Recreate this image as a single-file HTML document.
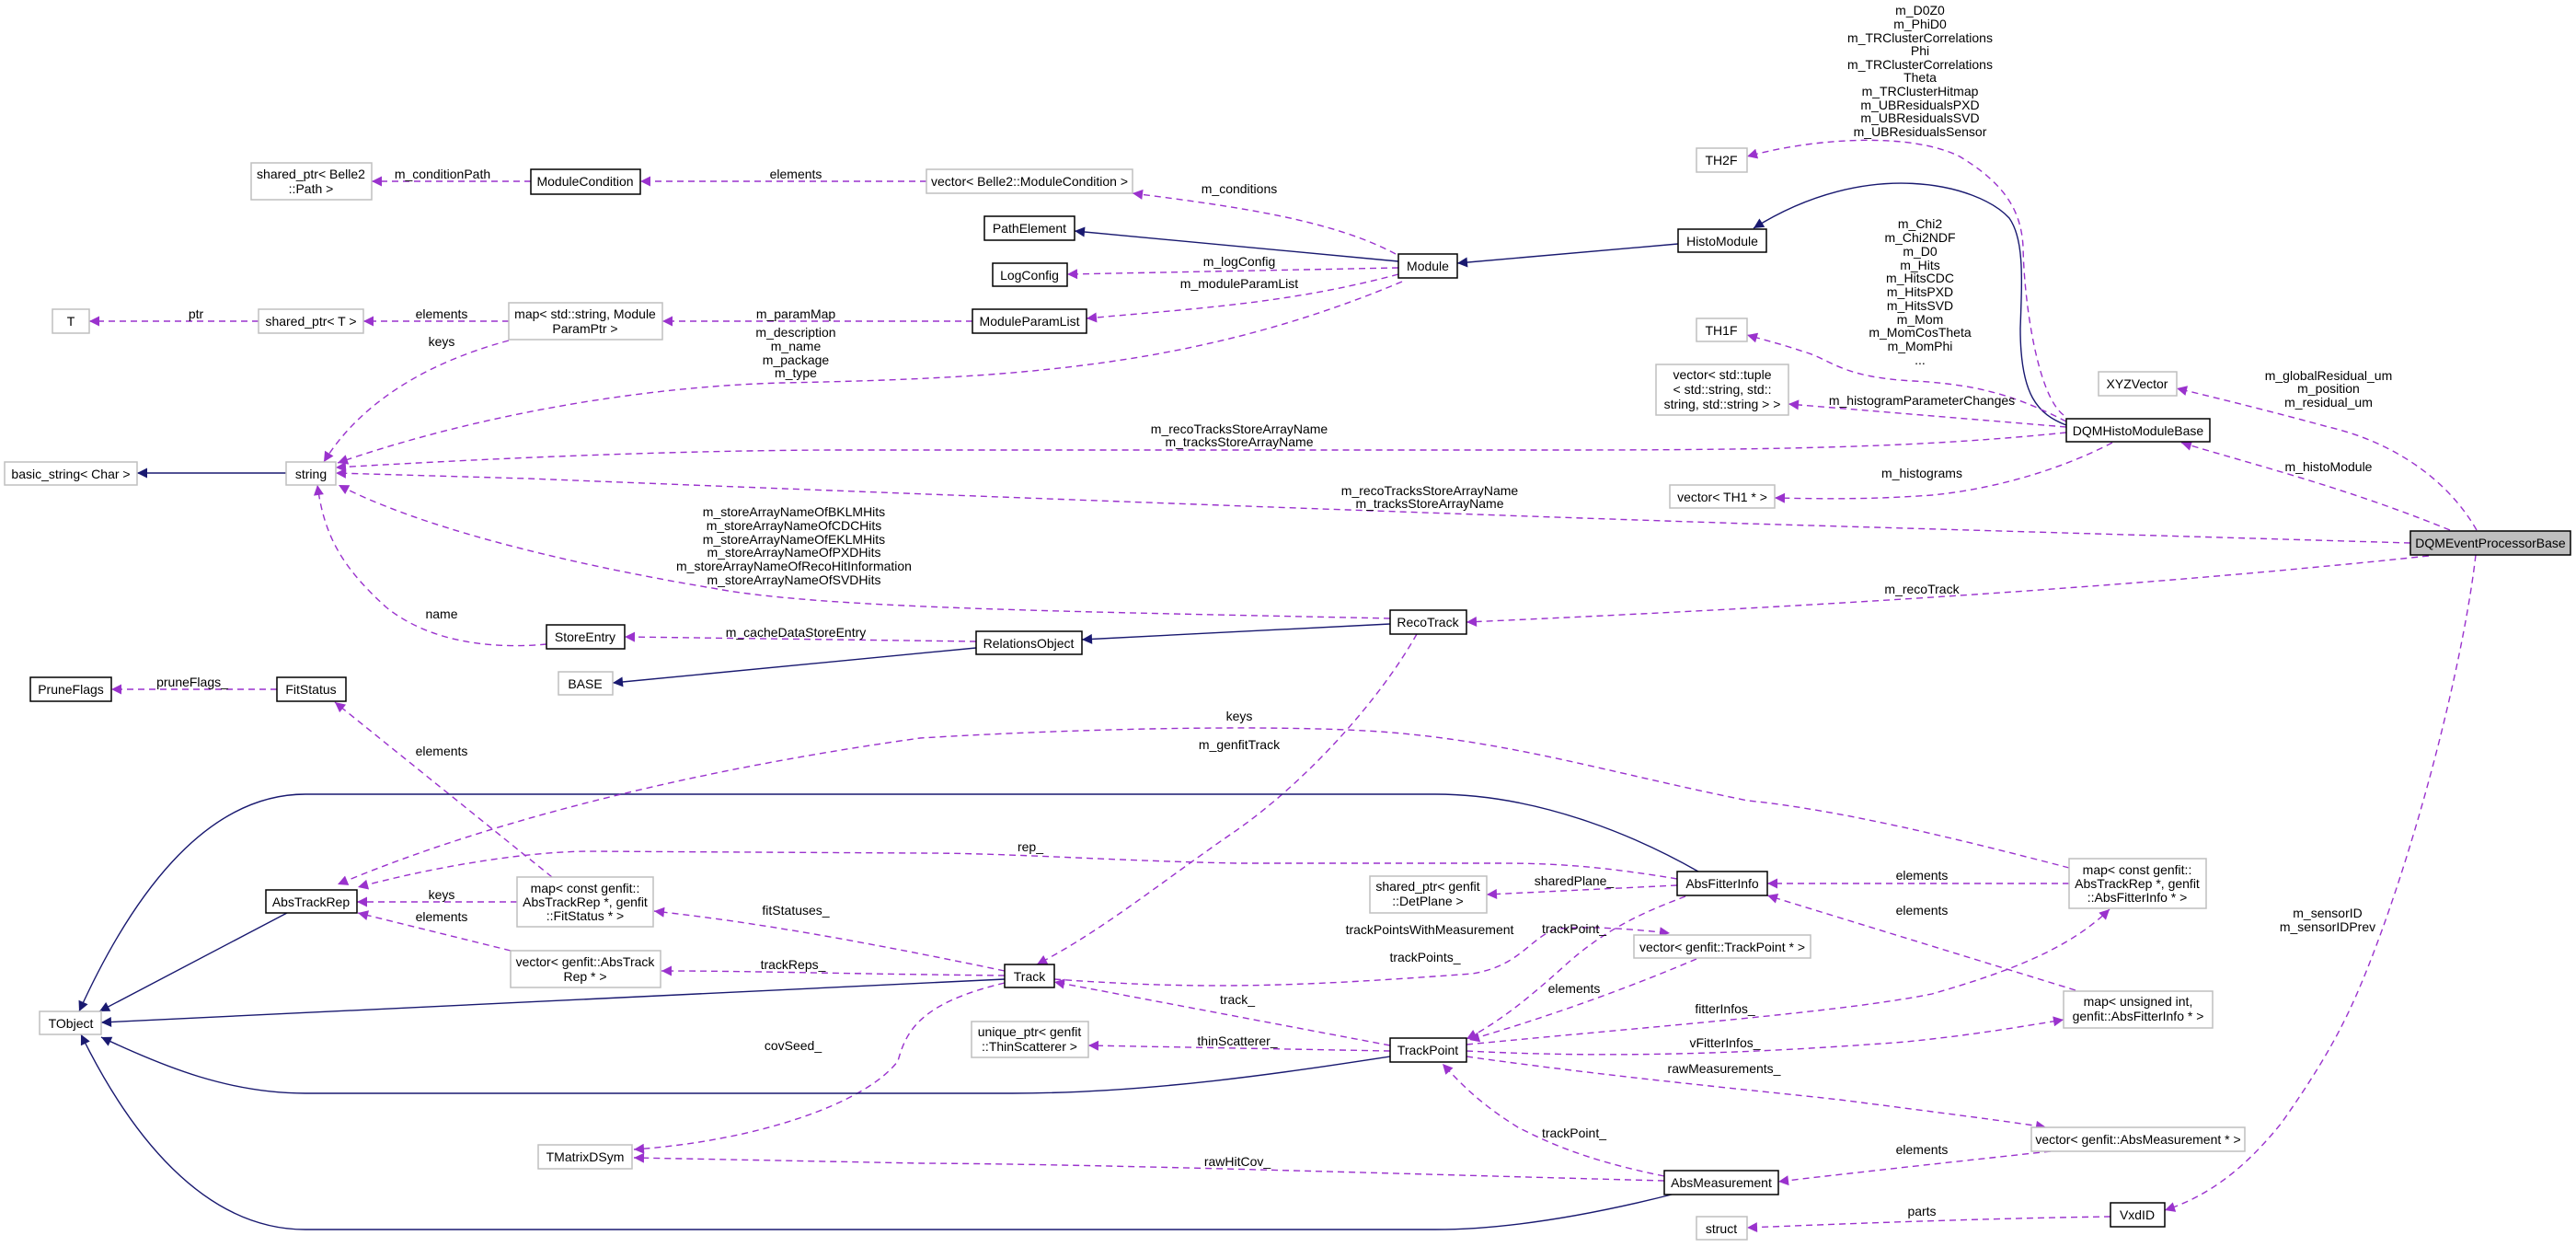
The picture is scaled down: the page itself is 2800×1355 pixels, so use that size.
<!DOCTYPE html>
<html><head><meta charset="utf-8"><style>
html,body{margin:0;padding:0;background:#fff;}
svg{display:block;font-family:"Liberation Sans",sans-serif;font-size:14px;}
.d{fill:none;stroke:#9a32cd;stroke-width:1.4;stroke-dasharray:7,5;marker-end:url(#p);}
.s{fill:none;stroke:#191970;stroke-width:1.4;marker-end:url(#n);}
.g{fill:#fff;stroke:#bfbfbf;stroke-width:1.5;}
.b{fill:#fff;stroke:#000;stroke-width:1.5;}
text{fill:#000;text-anchor:middle;}
</style></head><body>
<svg width="2800" height="1355" viewBox="0 0 2800 1355" xmlns="http://www.w3.org/2000/svg">
<defs>
<marker id="p" viewBox="0 0 10 10" refX="10" refY="5" markerWidth="15" markerHeight="11" markerUnits="userSpaceOnUse" orient="auto"><path d="M0,0L10,5L0,10z" fill="#9a32cd"/></marker>
<marker id="n" viewBox="0 0 10 10" refX="10" refY="5" markerWidth="15" markerHeight="11" markerUnits="userSpaceOnUse" orient="auto"><path d="M0,0L10,5L0,10z" fill="#191970"/></marker>
</defs>

<!-- edges -->
<path class="d" d="M577,197 L404,197"/>
<path class="d" d="M1007,197 L696,197"/>
<path class="d" d="M1517,276 C1450,240 1350,225 1231,210"/>
<path class="s" d="M1520,284 L1168,251"/>
<path class="d" d="M1520,291 L1160,298"/>
<path class="d" d="M1520,298 C1400,330 1300,335 1181,346"/>
<path class="d" d="M1524,306 C1300,400 1100,411 850,416 C700,420 520,450 367,503"/>
<path class="s" d="M1824,265 L1584,286"/>
<path class="d" d="M1057,349 L720,349"/>
<path class="d" d="M553,349 L395,349"/>
<path class="d" d="M281,349 L97,349"/>
<path class="d" d="M553,370 C460,395 390,440 352,502"/>
<path class="s" d="M311,514 L149,514"/>
<path class="s" d="M2246,462 C2215,450 2196,430 2196,357 C2198,300 2200,260 2184,237 C2150,200 2030,170 1906,248"/>
<path class="d" d="M2243,451 C2215,430 2200,330 2199,268 C2197,230 2180,200 2130,170 C2080,145 1980,148 1899,170"/>
<path class="d" d="M2246,458 C2200,435 2160,418 2080,414 C2000,410 1990,390 1960,382 C1940,375 1920,370 1899,364"/>
<path class="d" d="M2246,464 L1944,439"/>
<path class="d" d="M2246,470 C2100,485 1950,489 1700,489 L900,489 C700,490 500,500 365,508"/>
<path class="d" d="M2296,481 C2250,505 2180,530 2100,538 C2030,543 1980,542 1929,541"/>
<path class="d" d="M2692,576 C2660,520 2600,480 2531,464 C2480,450 2420,435 2366,422"/>
<path class="d" d="M2663,576 C2550,530 2450,505 2371,481"/>
<path class="d" d="M2620,590 L1900,569 C1500,556 1000,537 574,520 L365,514"/>
<path class="d" d="M2640,604 C2300,640 1950,660 1594,676"/>
<path class="d" d="M2691,603 C2680,700 2640,870 2589,1011 C2560,1090 2540,1135 2480,1220 C2440,1270 2400,1300 2353,1315"/>
<path class="d" d="M1511,672 C1200,665 900,662 780,640 C600,610 450,570 368,527"/>
<path class="d" d="M594,700 C540,705 470,700 420,660 C370,615 352,580 345,527"/>
<path class="d" d="M1061,697 L679,692"/>
<path class="s" d="M1061,704 L666,742"/>
<path class="s" d="M1511,678 L1176,695"/>
<path class="d" d="M1540,689 C1500,760 1420,850 1340,905 C1260,960 1200,1010 1127,1048"/>
<path class="d" d="M301,749 L121,749"/>
<path class="d" d="M600,953 L364,763"/>
<path class="d" d="M562,980 L388,980"/>
<path class="d" d="M555,1033 L389,992"/>
<path class="s" d="M312,992 L108,1099"/>
<path class="s" d="M1092,1064 L110,1111"/>
<path class="d" d="M1092,1055 C900,1015 800,1000 711,990"/>
<path class="d" d="M1092,1060 C900,1058 820,1055 719,1055"/>
<path class="d" d="M1092,1068 C1000,1090 985,1120 976,1153 C940,1200 820,1240 689,1249"/>
<path class="d" d="M1809,1283 C1500,1275 1200,1265 1000,1264 L689,1258"/>
<path class="s" d="M1511,1148 C1400,1165 1250,1188 1100,1188 L332,1188 C250,1188 180,1160 110,1127"/>
<path class="s" d="M1821,1297 C1750,1315 1650,1336 1560,1336 L332,1336 C220,1336 140,1230 88,1124"/>
<path class="s" d="M1846,947 C1790,915 1680,863 1560,863 L332,863 C220,863 140,980 86,1099"/>
<path class="d" d="M1823,955 C1750,943 1700,938 1631,938 L1344,938 C1200,935 1100,927 1000,927 L638,925 C560,926 460,945 389,964"/>
<path class="d" d="M2249,943 C2130,912 2000,880 1900,870 C1750,840 1640,805 1500,795 C1400,788 1200,790 1000,802 C800,830 560,880 367,961"/>
<path class="d" d="M2249,960 L1921,960"/>
<path class="d" d="M2256,1076 L1921,973"/>
<path class="d" d="M1823,962 L1616,972"/>
<path class="d" d="M1832,974 C1790,990 1746,1008 1700,1050 C1660,1086 1630,1110 1594,1129"/>
<path class="d" d="M1146,1064 C1300,1075 1400,1073 1600,1058 C1650,1050 1660,1023 1689,1010 C1720,1005 1780,1010 1815,1014"/>
<path class="d" d="M1844,1042 C1790,1065 1700,1100 1597,1130"/>
<path class="d" d="M1511,1136 L1146,1067"/>
<path class="d" d="M1511,1142 L1183,1136"/>
<path class="d" d="M1594,1135 C1800,1115 2000,1100 2100,1080 C2187,1055 2250,1030 2293,988"/>
<path class="d" d="M1594,1142 C1750,1150 1900,1145 2072,1132 C2150,1124 2200,1115 2243,1108"/>
<path class="d" d="M1594,1148 C1750,1170 1900,1184 2000,1195 C2100,1208 2180,1218 2224,1225"/>
<path class="d" d="M1809,1278 C1720,1260 1680,1240 1650,1225 C1610,1200 1590,1180 1568,1156"/>
<path class="d" d="M2229,1251 C2100,1265 2000,1276 1933,1284"/>
<path class="d" d="M2294,1322 C2150,1324 2000,1330 1899,1334"/>

<!-- boxes -->
<rect class="g" x="273" y="177" width="131" height="40"/><text x="338" y="194">shared_ptr&lt; Belle2</text><text x="338" y="210">::Path &gt;</text>
<rect class="b" x="577" y="184" width="119" height="27"/><text x="636" y="202">ModuleCondition</text>
<rect class="g" x="1007" y="184" width="224" height="26"/><text x="1119" y="202">vector&lt; Belle2::ModuleCondition &gt;</text>
<rect class="b" x="1070" y="235" width="98" height="26"/><text x="1119" y="253">PathElement</text>
<rect class="b" x="1079" y="286" width="81" height="25"/><text x="1119" y="304">LogConfig</text>
<rect class="b" x="1057" y="336" width="124" height="26"/><text x="1119" y="354">ModuleParamList</text>
<rect class="b" x="1520" y="276" width="64" height="26"/><text x="1552" y="294">Module</text>
<rect class="b" x="1824" y="249" width="96" height="25"/><text x="1872" y="267">HistoModule</text>
<rect class="g" x="1844" y="161" width="55" height="26"/><text x="1871" y="179">TH2F</text>
<rect class="g" x="1844" y="346" width="55" height="25"/><text x="1871" y="364">TH1F</text>
<rect class="g" x="1800" y="396" width="144" height="55"/><text x="1872" y="412">vector&lt; std::tuple</text><text x="1872" y="428">&lt; std::string, std::</text><text x="1872" y="444">string, std::string &gt; &gt;</text>
<rect class="g" x="1815" y="527" width="114" height="25"/><text x="1872" y="545">vector&lt; TH1 * &gt;</text>
<rect class="g" x="57" y="336" width="40" height="26"/><text x="77" y="354">T</text>
<rect class="g" x="281" y="336" width="114" height="26"/><text x="338" y="354">shared_ptr&lt; T &gt;</text>
<rect class="g" x="553" y="329" width="167" height="40"/><text x="636" y="346">map&lt; std::string, Module</text><text x="636" y="362">ParamPtr &gt;</text>
<rect class="g" x="5" y="502" width="144" height="25"/><text x="77" y="520">basic_string&lt; Char &gt;</text>
<rect class="g" x="311" y="502" width="54" height="25"/><text x="338" y="520">string</text>
<rect class="g" x="2281" y="404" width="85" height="26"/><text x="2323" y="422">XYZVector</text>
<rect class="b" x="2246" y="455" width="156" height="25"/><text x="2324" y="473">DQMHistoModuleBase</text>
<rect x="2620" y="577" width="174" height="26" fill="#bfbfbf" stroke="#000" stroke-width="1.5"/><text x="2707" y="595">DQMEventProcessorBase</text>
<rect class="b" x="594" y="679" width="85" height="26"/><text x="636" y="697">StoreEntry</text>
<rect class="g" x="607" y="730" width="59" height="25"/><text x="636" y="748">BASE</text>
<rect class="b" x="1061" y="686" width="115" height="25"/><text x="1118" y="704">RelationsObject</text>
<rect class="b" x="1511" y="663" width="83" height="26"/><text x="1552" y="681">RecoTrack</text>
<rect class="b" x="33" y="736" width="88" height="26"/><text x="77" y="754">PruneFlags</text>
<rect class="b" x="301" y="736" width="75" height="26"/><text x="338" y="754">FitStatus</text>
<rect class="b" x="289" y="967" width="99" height="25"/><text x="338" y="985">AbsTrackRep</text>
<rect class="g" x="562" y="953" width="148" height="54"/><text x="636" y="970">map&lt; const genfit::</text><text x="636" y="985">AbsTrackRep *, genfit</text><text x="636" y="1000">::FitStatus * &gt;</text>
<rect class="g" x="555" y="1033" width="163" height="40"/><text x="636" y="1050">vector&lt; genfit::AbsTrack</text><text x="636" y="1066">Rep * &gt;</text>
<rect class="g" x="43" y="1099" width="67" height="25"/><text x="77" y="1117">TObject</text>
<rect class="g" x="585" y="1244" width="102" height="26"/><text x="636" y="1262">TMatrixDSym</text>
<rect class="b" x="1092" y="1048" width="54" height="25"/><text x="1119" y="1066">Track</text>
<rect class="g" x="1056" y="1110" width="127" height="39"/><text x="1119" y="1126">unique_ptr&lt; genfit</text><text x="1119" y="1142">::ThinScatterer &gt;</text>
<rect class="b" x="1511" y="1128" width="83" height="26"/><text x="1552" y="1146">TrackPoint</text>
<rect class="g" x="1489" y="952" width="127" height="40"/><text x="1552" y="968">shared_ptr&lt; genfit</text><text x="1552" y="984">::DetPlane &gt;</text>
<rect class="b" x="1823" y="947" width="98" height="26"/><text x="1872" y="965">AbsFitterInfo</text>
<rect class="g" x="1776" y="1016" width="192" height="25"/><text x="1872" y="1034">vector&lt; genfit::TrackPoint * &gt;</text>
<rect class="b" x="1809" y="1272" width="124" height="26"/><text x="1871" y="1290">AbsMeasurement</text>
<rect class="g" x="1844" y="1322" width="55" height="25"/><text x="1871" y="1340">struct</text>
<rect class="g" x="2249" y="933" width="149" height="54"/><text x="2323" y="950">map&lt; const genfit::</text><text x="2323" y="965">AbsTrackRep *, genfit</text><text x="2323" y="980">::AbsFitterInfo * &gt;</text>
<rect class="g" x="2243" y="1077" width="162" height="40"/><text x="2324" y="1093">map&lt; unsigned int,</text><text x="2324" y="1109">genfit::AbsFitterInfo * &gt;</text>
<rect class="g" x="2208" y="1225" width="232" height="26"/><text x="2324" y="1243">vector&lt; genfit::AbsMeasurement * &gt;</text>
<rect class="b" x="2294" y="1307" width="59" height="26"/><text x="2323" y="1325">VxdID</text>

<!-- labels -->
<text x="481" y="194">m_conditionPath</text>
<text x="865" y="194">elements</text>
<text x="1347" y="210">m_conditions</text>
<text x="1347" y="289">m_logConfig</text>
<text x="1347" y="313">m_moduleParamList</text>
<text x="213" y="346">ptr</text>
<text x="480" y="346">elements</text>
<text x="480" y="376">keys</text>
<text x="865" y="346">m_paramMap</text>
<text x="865" y="366">m_description</text>
<text x="865" y="381">m_name</text>
<text x="865" y="396">m_package</text>
<text x="865" y="410">m_type</text>
<g>
<text x="2087" y="16">m_D0Z0</text><text x="2087" y="31">m_PhiD0</text><text x="2087" y="46">m_TRClusterCorrelations</text><text x="2087" y="60">Phi</text><text x="2087" y="75">m_TRClusterCorrelations</text><text x="2087" y="89">Theta</text><text x="2087" y="104">m_TRClusterHitmap</text><text x="2087" y="119">m_UBResidualsPXD</text><text x="2087" y="133">m_UBResidualsSVD</text><text x="2087" y="148">m_UBResidualsSensor</text>
</g>
<g>
<text x="2087" y="248">m_Chi2</text><text x="2087" y="263">m_Chi2NDF</text><text x="2087" y="278">m_D0</text><text x="2087" y="293">m_Hits</text><text x="2087" y="307">m_HitsCDC</text><text x="2087" y="322">m_HitsPXD</text><text x="2087" y="337">m_HitsSVD</text><text x="2087" y="352">m_Mom</text><text x="2087" y="366">m_MomCosTheta</text><text x="2087" y="381">m_MomPhi</text><text x="2087" y="396">...</text>
</g>
<text x="2089" y="440">m_histogramParameterChanges</text>
<text x="2089" y="519">m_histograms</text>
<text x="1347" y="471">m_recoTracksStoreArrayName</text>
<text x="1347" y="485">m_tracksStoreArrayName</text>
<text x="1554" y="538">m_recoTracksStoreArrayName</text>
<text x="1554" y="552">m_tracksStoreArrayName</text>
<text x="2531" y="413">m_globalResidual_um</text>
<text x="2531" y="427">m_position</text>
<text x="2531" y="442">m_residual_um</text>
<text x="2531" y="512">m_histoModule</text>
<text x="2089" y="645">m_recoTrack</text>
<text x="863" y="561">m_storeArrayNameOfBKLMHits</text>
<text x="863" y="576">m_storeArrayNameOfCDCHits</text>
<text x="863" y="591">m_storeArrayNameOfEKLMHits</text>
<text x="863" y="605">m_storeArrayNameOfPXDHits</text>
<text x="863" y="620">m_storeArrayNameOfRecoHitInformation</text>
<text x="863" y="635">m_storeArrayNameOfSVDHits</text>
<text x="480" y="672">name</text>
<text x="865" y="692">m_cacheDataStoreEntry</text>
<text x="209" y="746">pruneFlags_</text>
<text x="480" y="821">elements</text>
<text x="1347" y="783">keys</text>
<text x="1347" y="814">m_genfitTrack</text>
<text x="1120" y="925">rep_</text>
<text x="1711" y="962">sharedPlane_</text>
<text x="480" y="977">keys</text>
<text x="480" y="1001">elements</text>
<text x="865" y="994">fitStatuses_</text>
<text x="862" y="1053">trackReps_</text>
<text x="862" y="1141">covSeed_</text>
<text x="1554" y="1015">trackPointsWithMeasurement</text>
<text x="1549" y="1045">trackPoints_</text>
<text x="1711" y="1014">trackPoint_</text>
<text x="1711" y="1079">elements</text>
<text x="1345" y="1091">track_</text>
<text x="1345" y="1136">thinScatterer_</text>
<text x="1875" y="1101">fitterInfos_</text>
<text x="1875" y="1138">vFitterInfos_</text>
<text x="1874" y="1166">rawMeasurements_</text>
<text x="1711" y="1236">trackPoint_</text>
<text x="1345" y="1267">rawHitCov_</text>
<text x="2089" y="956">elements</text>
<text x="2089" y="994">elements</text>
<text x="2089" y="1254">elements</text>
<text x="2089" y="1321">parts</text>
<text x="2530" y="997">m_sensorID</text>
<text x="2530" y="1012">m_sensorIDPrev</text>
</svg>
</body></html>
